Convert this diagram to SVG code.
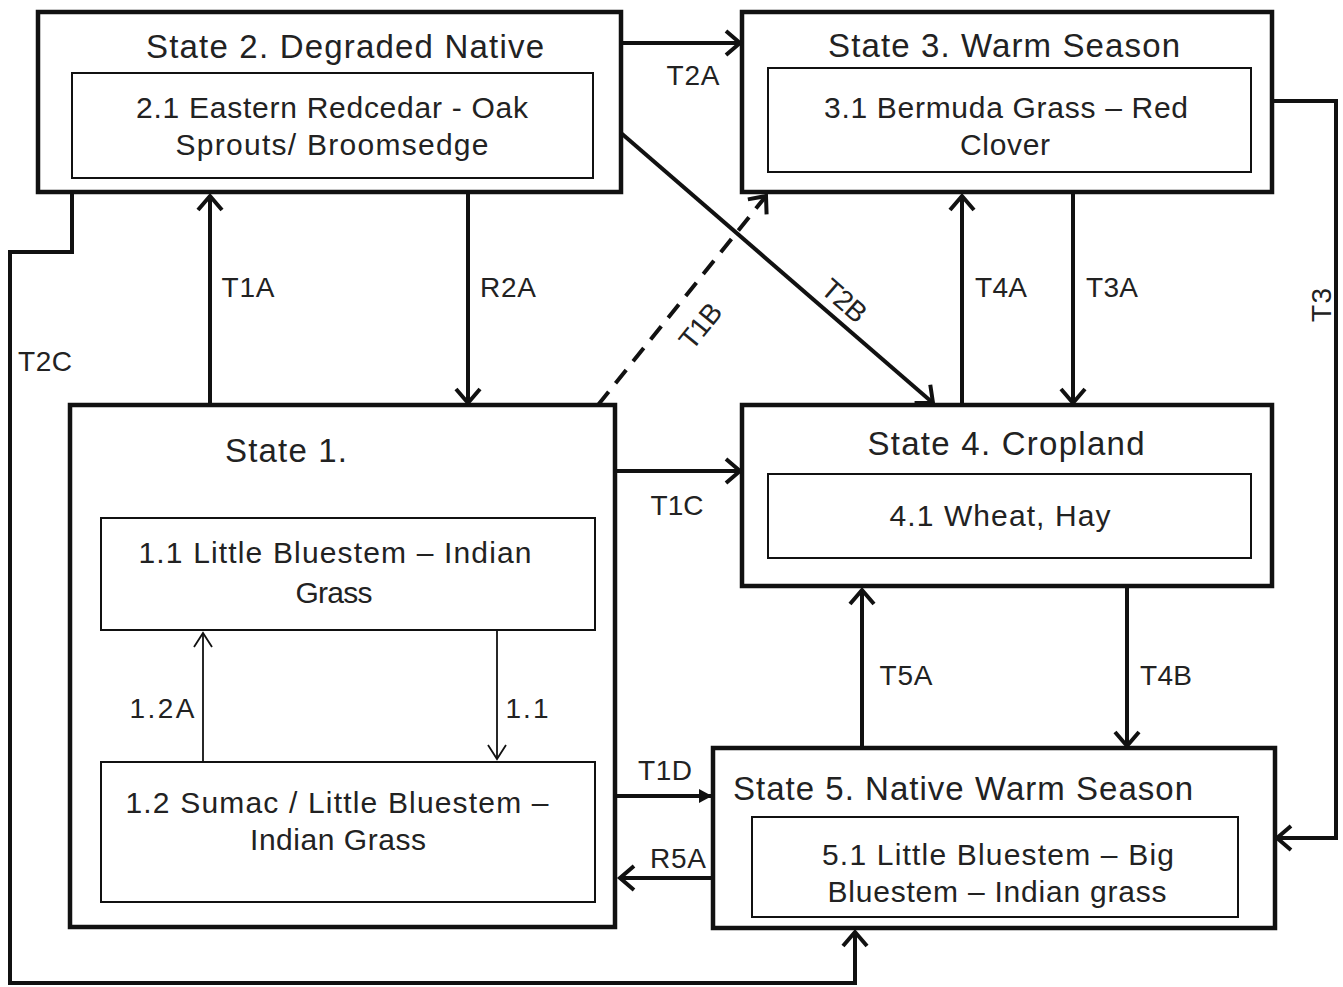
<svg xmlns="http://www.w3.org/2000/svg" width="1343" height="987" viewBox="0 0 1343 987">
<style>
.outer{fill:#fff;stroke:#111;stroke-width:4.5}
.inner{fill:#fff;stroke:#111;stroke-width:2}
.t{font-family:"Liberation Sans",Arial,sans-serif;fill:#222;text-anchor:middle}
.title{font-size:33px}
.sub{font-size:30px}
.lab{font-size:28px}
.c{fill:none;stroke:#111;stroke-width:4}
.thin{fill:none;stroke:#111;stroke-width:1.8}
</style>
<defs>
<marker id="ah" markerUnits="userSpaceOnUse" markerWidth="24" markerHeight="30" refX="17" refY="14" orient="auto" viewBox="0 0 24 30">
<path d="M3,2 L17,14 L3,26" fill="none" stroke="#111" stroke-width="4"/>
</marker>
<marker id="ahthin" markerUnits="userSpaceOnUse" markerWidth="20" markerHeight="24" refX="15" refY="10" orient="auto" viewBox="0 0 20 24">
<path d="M1,1 L15,10 L1,19" fill="none" stroke="#111" stroke-width="1.8"/>
</marker>
<marker id="ahfill" markerUnits="userSpaceOnUse" markerWidth="16" markerHeight="16" refX="13" refY="7" orient="auto" viewBox="0 0 16 16">
<path d="M0,0 L13,7 L0,14 Z" fill="#111"/>
</marker>
</defs>
<rect width="1343" height="987" fill="#fff"/>

<g id="state2">
<rect class="outer" x="38" y="12" width="583" height="180"/>
<text class="t title" x="345" y="58" textLength="398">State 2. Degraded Native</text>
<rect class="inner" x="72" y="73" width="521" height="105"/>
<text class="t sub" x="332" y="118" textLength="392">2.1 Eastern Redcedar - Oak</text>
<text class="t sub" x="332" y="155" textLength="313">Sprouts/ Broomsedge</text>
</g>

<g id="state3">
<rect class="outer" x="742" y="12" width="530" height="180"/>
<text class="t title" x="1004" y="57" textLength="352">State 3. Warm Season</text>
<rect class="inner" x="768" y="68" width="483" height="104"/>
<text class="t sub" x="1006" y="118" textLength="364">3.1 Bermuda Grass – Red</text>
<text class="t sub" x="1005" y="155" textLength="90">Clover</text>
</g>

<g id="state1">
<rect class="outer" x="70" y="405" width="545" height="522"/>
<text class="t title" x="286" y="462" textLength="122">State 1.</text>
<rect class="inner" x="101" y="518" width="494" height="112"/>
<text class="t sub" x="335" y="563" textLength="393">1.1 Little Bluestem – Indian</text>
<text class="t sub" x="334" y="603" textLength="77">Grass</text>
<rect class="inner" x="101" y="762" width="494" height="140"/>
<text class="t sub" x="337" y="813" textLength="423">1.2 Sumac / Little Bluestem –</text>
<text class="t sub" x="338" y="850" textLength="176">Indian Grass</text>
</g>

<g id="state4">
<rect class="outer" x="742" y="405" width="530" height="181"/>
<text class="t title" x="1006" y="455" textLength="277">State 4. Cropland</text>
<rect class="inner" x="768" y="474" width="483" height="84"/>
<text class="t sub" x="1000" y="526" textLength="221">4.1 Wheat, Hay</text>
</g>

<g id="state5">
<rect class="outer" x="713" y="748" width="562" height="180"/>
<text class="t title" x="963" y="800" textLength="460">State 5. Native Warm Season</text>
<rect class="inner" x="752" y="817" width="486" height="100"/>
<text class="t sub" x="998" y="865" textLength="352">5.1 Little Bluestem – Big</text>
<text class="t sub" x="997" y="902" textLength="339">Bluestem – Indian grass</text>
</g>

<g id="connectors">
<path id="T2A" class="c" d="M621,43 H740" marker-end="url(#ah)"/>
<path id="T1A" class="c" d="M210,405 V196" marker-end="url(#ah)"/>
<path id="R2A" class="c" d="M468,192 V403" marker-end="url(#ah)"/>
<path id="T2C" class="c" d="M72,192 V252 H10 V983 H855 V932" marker-end="url(#ah)"/>
<path id="T1B" class="c" d="M598,405 L766,196" stroke-dasharray="17 11" marker-end="url(#ah)"/>
<path id="T2B" class="c" d="M621,133 L933,403" marker-end="url(#ah)"/>
<path id="T4A" class="c" d="M962,405 V196" marker-end="url(#ah)"/>
<path id="T3A" class="c" d="M1073,192 V403" marker-end="url(#ah)"/>
<path id="T3" class="c" d="M1272,101 H1336 V838 H1277" marker-end="url(#ah)"/>
<path id="T1C" class="c" d="M615,471 H740" marker-end="url(#ah)"/>
<path id="T5A" class="c" d="M862,748 V590" marker-end="url(#ah)"/>
<path id="T4B" class="c" d="M1127,586 V746" marker-end="url(#ah)"/>
<path id="T1D" class="c" d="M615,796 H712" marker-end="url(#ahfill)"/>
<path id="R5A" class="c" d="M713,878 H620" marker-end="url(#ah)"/>
<path id="c12A" class="thin" d="M203,762 V633" marker-end="url(#ahthin)"/>
<path id="c11" class="thin" d="M497,630 V759" marker-end="url(#ahthin)"/>
<text class="t lab" x="693" y="85" textLength="53">T2A</text>
<text class="t lab" x="248" y="297" textLength="53">T1A</text>
<text class="t lab" x="508" y="297" textLength="56">R2A</text>
<text class="t lab" x="45" y="371" textLength="54">T2C</text>
<text class="t lab" transform="translate(708,332) rotate(-51)" textLength="50">T1B</text>
<text class="t lab" transform="translate(838,308) rotate(41)" textLength="50">T2B</text>
<text class="t lab" x="1001" y="297" textLength="52">T4A</text>
<text class="t lab" x="1112" y="297" textLength="52">T3A</text>
<text class="t lab" transform="translate(1331,305) rotate(-90)" textLength="34">T3</text>
<text class="t lab" x="677" y="515" textLength="53">T1C</text>
<text class="t lab" x="906" y="685" textLength="53">T5A</text>
<text class="t lab" x="1166" y="685" textLength="52">T4B</text>
<text class="t lab" x="665" y="780" textLength="54">T1D</text>
<text class="t lab" x="678" y="868" textLength="56">R5A</text>
<text class="t lab" x="162" y="718" textLength="65">1.2A</text>
<text class="t lab" x="527" y="718" textLength="43">1.1</text>
</g>
</svg>
